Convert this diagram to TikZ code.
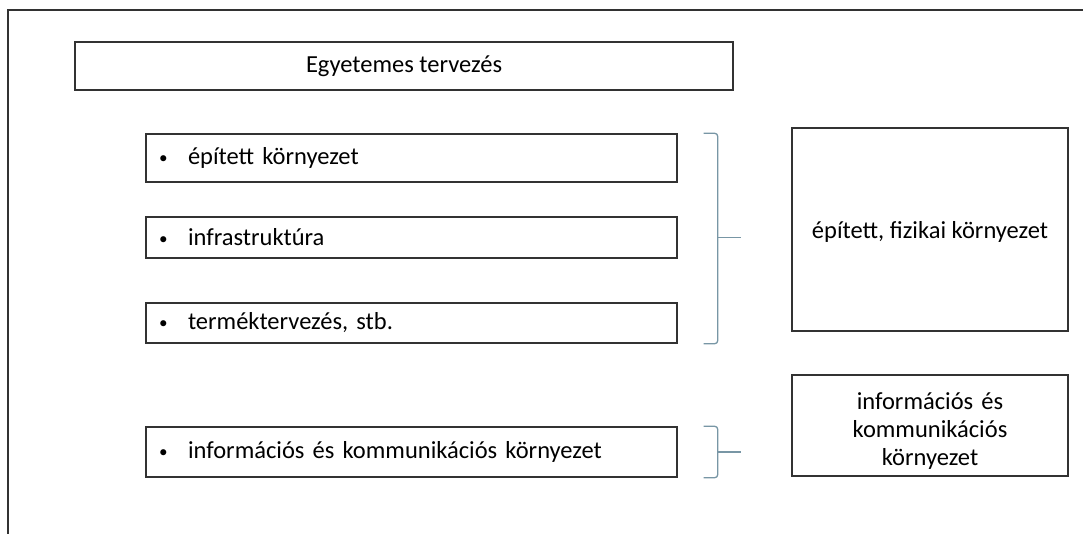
\documentclass[tikz,border=0pt]{standalone}
\usepackage{fontspec}
\setmainfont{Carlito}
\definecolor{framegray}{RGB}{50,50,50}
\definecolor{bracegray}{RGB}{120,150,165}
\newcommand{\itm}{\hspace*{12pt}\makebox[30pt][l]{\hspace*{1pt}\raisebox{1.5pt}{\scalebox{0.7}{\textbullet}}}}
\tikzset{
  box/.style={draw=framegray, line width=1.4pt, inner sep=0pt, font=\fontsize{24.5}{28}\selectfont},
  itembox/.style={box, minimum width=531pt, text width=531pt, align=left},
  bracket/.style={draw=bracegray, line width=1.3pt, rounded corners=3pt}
}

\begin{document}
\begin{tikzpicture}[x=1pt,y=-1pt]
	\useasboundingbox (0,0) rectangle (1083,534);
	% frame
	\draw[framegray, line width=1.5pt] (1083,10) -- (8,10) -- (8,534);
	% left column
	\node[box, minimum width=658pt, minimum height=48pt] (title) at (404,66) {Egyetemes tervezés};
	\node[itembox, minimum height=48pt] (epitett) at (411.5,158) {\itm épített környezet};
	\node[itembox, minimum height=41pt] (infra) at (411.5,237.5) {\itm infrastruktúra};
	\node[itembox, minimum height=40pt] (termek) at (411.5,323) {\itm terméktervezés, stb.};
	\node[itembox, minimum height=50pt] (info) at (411.5,452) {\itm információs és kommunikációs környezet};
	% right column
	\node[box, minimum width=276pt, minimum height=203pt, text depth=0pt] (fizikai) at (930,229.5) {épített, fizikai környezet};
	\node[box, minimum width=276pt, minimum height=101pt] (ikt) at (930,425.5) {};
	\node[box, draw=none, text width=276pt, align=center, yshift=-6pt] (ikttext) at (ikt.center) {\baselineskip=28pt információs és\\kommunikációs\\környezet};
	% brackets
	\draw[bracket] ([xshift=26pt]epitett.north east) -- ([xshift=40pt]epitett.north east) -- ([xshift=40pt]termek.south east) -- ([xshift=26pt]termek.south east);
	\draw[bracket] ([xshift=40pt]infra.east) -- ([xshift=63pt]infra.east);
	\draw[bracket] ([xshift=26pt]info.north east) -- ([xshift=40pt]info.north east) -- ([xshift=40pt]info.south east) -- ([xshift=26pt]info.south east);
	\draw[bracket] ([xshift=40pt]info.east) -- ([xshift=63pt]info.east);
\end{tikzpicture}
\end{document}
